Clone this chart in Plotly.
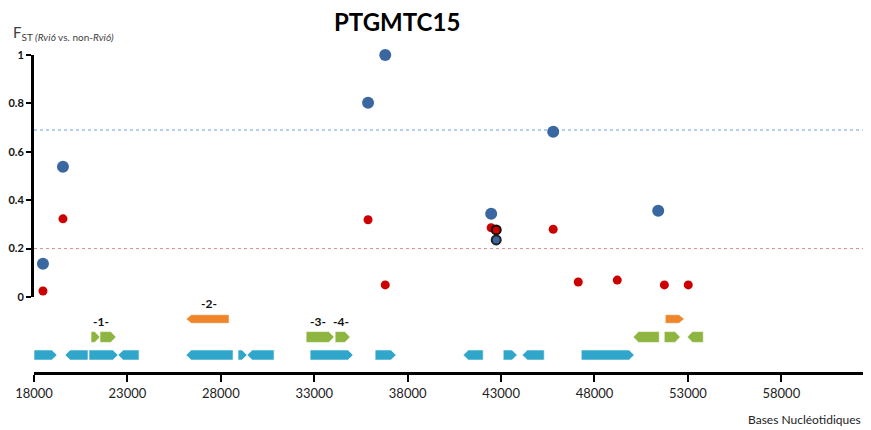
import plotly.graph_objects as go

# ---------------- data ----------------
title_text = "PTGMTC15"
x_tick_vals = [18000, 23000, 28000, 33000, 38000, 43000, 48000, 53000, 58000]
y_tick_vals = [0, 0.2, 0.4, 0.6, 0.8, 1]
y_tick_text = ["0", "0.2", "0.4", "0.6", "0.8", "1"]

# blue SNP series
blue_pos = [18480, 19550, 35880, 36800, 42470, 45790, 51410]
blue_fst = [0.137, 0.538, 0.803, 1.0, 0.344, 0.683, 0.356]
# red SNP series
red_pos = [18480, 19550, 35880, 36800, 42470, 45790, 47130, 49220, 51740, 53020]
red_fst = [0.025, 0.323, 0.319, 0.05, 0.286, 0.28, 0.062, 0.07, 0.05, 0.05]
# highlighted (outlined) SNP
hl_pos = [42740]
hl_blue_fst = [0.236]
hl_red_fst = [0.277]

# thresholds
blue_threshold = 0.69
red_threshold = 0.2

# genes: start, end, strand (+1 right, -1 left), track (1 blue, 2 green, 3 orange)
gene_start = [18000, 19660, 20945, 22498, 26139, 28924, 29406, 32779, 36260, 40972, 43114, 44131, 47291,
              21052, 21534, 32565, 34118, 50075, 51735, 52967,
              26139, 51789]
gene_end = [19232, 20892, 22498, 23622, 28656, 29406, 30851, 35082, 37384, 42043, 43864, 45309, 50129,
            21534, 22391, 34064, 34921, 51467, 52592, 53824,
            28442, 52806]
gene_strand = [1, -1, 1, -1, -1, 1, -1, 1, 1, -1, 1, -1, 1,
               1, 1, 1, 1, -1, 1, -1,
               -1, 1]
gene_track = [1, 1, 1, 1, 1, 1, 1, 1, 1, 1, 1, 1, 1,
              2, 2, 2, 2, 2, 2, 2,
              3, 3]

label_text = ["-1-", "-2-", "-3-", "-4-"]
label_pos = [21590, 27370, 33210, 34440]
label_track = [2, 3, 2, 2]

# ---------------- styles ----------------
track_color = {1: "#2FA6CA", 2: "#8DB53F", 3: "#F0862B"}
track_half = {1: 0.28, 2: 0.30, 3: 0.24}
head_bp = 280
FONT = "Lato, 'Open Sans', sans-serif"

# page offset (browser body margin) compensation
OFF = 8
W, H = 871 - OFF, 430 - OFF
ML, MR, MT, MB = 34 - OFF, 0, 55 - OFF, 58
ph = H - MT - MB
pw = W - ML - MR
y_bottom_frac = (372 - 297) / ph


def px_to_paper(px, py):
    return (px - OFF - ML) / pw, (H - MB - (py - OFF)) / ph


fig = go.Figure()

fig.add_trace(go.Scatter(x=blue_pos, y=blue_fst, mode="markers", cliponaxis=False,
                         marker=dict(size=12, color="#3A67A0"), showlegend=False))
fig.add_trace(go.Scatter(x=red_pos, y=red_fst, mode="markers", cliponaxis=False,
                         marker=dict(size=9, color="#CC0000"), showlegend=False))
fig.add_trace(go.Scatter(x=hl_pos, y=hl_blue_fst, mode="markers", cliponaxis=False,
                         marker=dict(size=9, color="#3A67A0", line=dict(color="#222", width=2)),
                         showlegend=False))
fig.add_trace(go.Scatter(x=hl_pos, y=hl_red_fst, mode="markers", cliponaxis=False,
                         marker=dict(size=9, color="#CC0000", line=dict(color="#111", width=2)),
                         showlegend=False))

shapes = []
shapes.append(dict(type="line", xref="x domain", yref="y", x0=0, x1=1,
                   y0=blue_threshold, y1=blue_threshold,
                   line=dict(color="#6F9FE0", width=1, dash="dot"), layer="below"))
shapes.append(dict(type="line", xref="x domain", yref="y", x0=0, x1=1,
                   y0=red_threshold, y1=red_threshold,
                   line=dict(color="#D88A8A", width=1, dash="dot"), layer="below"))

for s, e, d, t in zip(gene_start, gene_end, gene_strand, gene_track):
    h = track_half[t]
    if d > 0:
        path = f"M{s},{t-h} L{e-head_bp},{t-h} L{e},{t} L{e-head_bp},{t+h} L{s},{t+h} Z"
    else:
        path = f"M{e},{t-h} L{s+head_bp},{t-h} L{s},{t} L{s+head_bp},{t+h} L{e},{t+h} Z"
    shapes.append(dict(type="path", xref="x", yref="y2", path=path,
                       fillcolor=track_color[t], line=dict(color="white", width=0.6)))

annotations = []
for txt, p, t in zip(label_text, label_pos, label_track):
    annotations.append(dict(x=p, y=t + 0.88, xref="x", yref="y2", text=f"<b>{txt}</b>",
                            showarrow=False, font=dict(family=FONT, size=12, color="#111")))

tx, ty = px_to_paper(397, 21)
annotations.append(dict(x=tx, y=ty, xref="paper", yref="paper", text=f"<b>{title_text}</b>",
                        showarrow=False, yanchor="middle",
                        font=dict(family=FONT, size=24, color="black")))
lx, ly = px_to_paper(11, 33)
annotations.append(dict(x=lx, y=ly, xref="paper", yref="paper",
                        text="F<sub><span style='font-size:10px'>ST <i>(Rvi6</i> vs. non-<i>Rvi6)</i></span></sub>",
                        showarrow=False, xanchor="left", yanchor="middle",
                        font=dict(family=FONT, size=15, color="#404040")))
bx, by = px_to_paper(863, 419)
annotations.append(dict(x=bx, y=by, xref="paper", yref="paper",
                        text="Bases Nucléotidiques", showarrow=False, xanchor="right",
                        yanchor="middle",
                        font=dict(family=FONT, size=12, color="#222")))

fig.update_layout(
    width=W, height=H,
    margin=dict(l=ML, r=MR, t=MT, b=MB),
    paper_bgcolor="white", plot_bgcolor="white",
    shapes=shapes, annotations=annotations,
    xaxis=dict(range=[18000, 62800], anchor="y2", tickvals=x_tick_vals,
               ticktext=[str(v) for v in x_tick_vals],
               showline=True, linecolor="black", linewidth=3,
               ticks="outside", ticklen=7, tickwidth=2, tickcolor="black",
               showgrid=False, zeroline=False,
               tickfont=dict(family=FONT, size=13, color="#222")),
    yaxis=dict(domain=[y_bottom_frac, 1], range=[0, 1], anchor="x",
               tickvals=y_tick_vals, ticktext=[f"<b>{t}</b>" for t in y_tick_text],
               showline=True, linecolor="black", linewidth=3,
               ticks="outside", ticklen=5, tickwidth=2, tickcolor="black",
               showgrid=False, zeroline=False,
               tickfont=dict(family=FONT, size=11, color="#111")),
    yaxis2=dict(domain=[0, y_bottom_frac], range=[0.056, 4.222], visible=False,
                anchor="x"),
)

fig.write_html("out.html")
